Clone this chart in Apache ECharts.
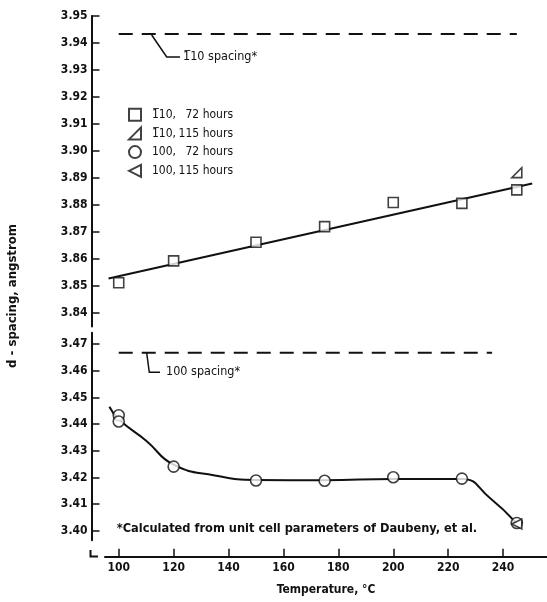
<!DOCTYPE html>
<html>
<head>
<meta charset="utf-8">
<script src="https://cdn.jsdelivr.net/npm/echarts@6/dist/echarts.min.js"></script>
<style>
html,body{margin:0;padding:0;background:#fff;}
#c{width:547px;height:602px;}
</style>
</head>
<body>
<div id="c"></div>
<script>
// ---- data ----
const xTicks = [100, 120, 140, 160, 180, 200, 220, 240];
const upperTicks = [3.84, 3.85, 3.86, 3.87, 3.88, 3.89, 3.90, 3.91, 3.92, 3.93, 3.94, 3.95];
const lowerTicks = [3.40, 3.41, 3.42, 3.43, 3.44, 3.45, 3.46, 3.47];

const t110_72 = [100, 120, 150, 175, 200, 225, 245];
const d110_72 = [3.8512, 3.8593, 3.8662, 3.8720, 3.8809, 3.8806, 3.8856];
const t110_115 = [245];
const d110_115 = [3.8920];
const t100_72 = [100, 100, 120, 150, 175, 200, 225, 245];
const d100_72 = [3.4433, 3.4410, 3.4241, 3.4189, 3.4188, 3.4201, 3.4196, 3.4030];
const t100_115 = [245];
const d100_115 = [3.4026];

const fitT = [96.3, 250.6];
const fitD = [3.8528, 3.8880];
const curveT = [96.6, 100, 110, 120, 135, 150, 175, 200, 225, 235, 245];
const curveD = [3.4465, 3.4418, 3.4338, 3.4248, 3.4208, 3.4191, 3.4190, 3.4195, 3.4195, 3.4125, 3.4028];

const ref110T = [100, 245];
const ref110 = 3.9433;
const ref100T = [100, 236];
const ref100 = 3.4667;

const seriesNames = ['1\u030510, 72 hours', '1\u030510, 115 hours', '100, 72 hours', '100, 115 hours'];

// ---- helpers ----
const zip = (xs, ys) => xs.map((x, i) => [x, ys[i]]);
const FONT = '"DejaVu Sans Condensed", "Liberation Sans Narrow", "DejaVu Sans", sans-serif';
const INK = '#111';
const rightTri = 'path://M0,10 L10,10 L10,0 Z';
const leftTri = 'path://M0,5 L10,0 L10,10 Z';

const chart = echarts.init(document.getElementById('c'), null, {renderer: 'canvas'});

const xCommon = {type: 'value', min: 95, max: 256};
const yLabel = {
  show: true, color: INK, fontFamily: FONT, fontWeight: 'bold', fontSize: 12, margin: 4,
  formatter: v => v.toFixed(2)
};

const markerStyle = {color: '#fff', borderColor: INK, borderWidth: 1.6};

chart.setOption({
  animation: false,
  backgroundColor: '#fff',
  textStyle: {fontFamily: FONT},
  grid: [
    {left: 105, width: 442.75, top: 16, height: 310.5},
    {left: 105, width: 442.75, top: 332.8, height: 207.5}
  ],
  xAxis: [
    Object.assign({gridIndex: 0, show: false}, xCommon),
    Object.assign({gridIndex: 1, offset: 16.4,
      axisLine: {show: true, lineStyle: {color: INK, width: 2}},
      axisTick: {show: true, inside: true, length: 8, customValues: xTicks, lineStyle: {color: INK, width: 1.5}},
      axisLabel: {show: true, customValues: xTicks, color: INK, fontFamily: FONT, fontWeight: 'bold', fontSize: 12, margin: 5},
      splitLine: {show: false},
      name: 'Temperature, \u00B0C', nameLocation: 'middle', nameGap: 27,
      nameTextStyle: {color: INK, fontFamily: FONT, fontWeight: 'bold', fontSize: 12}
    }, xCommon)
  ],
  yAxis: [
    {gridIndex: 0, type: 'value', min: 3.835, max: 3.95, offset: 13.5,
      axisLine: {show: true, lineStyle: {color: INK, width: 2}},
      axisTick: {show: true, inside: true, length: 8, customValues: upperTicks, lineStyle: {color: INK, width: 1.5}},
      axisLabel: Object.assign({customValues: upperTicks}, yLabel),
      splitLine: {show: false}},
    {gridIndex: 1, type: 'value', min: 3.3965, max: 3.4742, offset: 13.5,
      axisLine: {show: true, lineStyle: {color: INK, width: 2}},
      axisTick: {show: true, inside: true, length: 8, customValues: lowerTicks, lineStyle: {color: INK, width: 1.5}},
      axisLabel: Object.assign({customValues: lowerTicks}, yLabel),
      splitLine: {show: false}}
  ],
  legend: {
    orient: 'vertical', left: 128, top: 107.7, padding: 0,
    itemWidth: 12, itemHeight: 12, itemGap: 4.7,
    data: seriesNames,
    formatter: function (name) {
      const i = name.indexOf(', ');
      return '{a|' + name.slice(0, i + 1) + '}{b|' + name.slice(i + 2) + '}';
    },
    textStyle: {
      color: INK, fontFamily: FONT, fontSize: 12, lineHeight: 14,
      rich: {
        a: {width: 24, padding: [0, 0, 0, 6], fontFamily: FONT, fontSize: 12, lineHeight: 14, color: INK},
        b: {width: 57, align: 'right', fontFamily: FONT, fontSize: 12, lineHeight: 14, color: INK}
      }
    }
  },
  series: [
    {type: 'line', xAxisIndex: 0, yAxisIndex: 0, data: zip(ref110T, ref110T.map(() => ref110)),
      symbol: 'none', lineStyle: {color: INK, width: 2, type: [14, 9]}, silent: true},
    {type: 'line', xAxisIndex: 1, yAxisIndex: 1, data: zip(ref100T, ref100T.map(() => ref100)),
      symbol: 'none', lineStyle: {color: INK, width: 2, type: [14, 9]}, silent: true},
    {type: 'line', xAxisIndex: 0, yAxisIndex: 0, data: zip(fitT, fitD),
      symbol: 'none', lineStyle: {color: INK, width: 2}, silent: true},
    {type: 'line', xAxisIndex: 1, yAxisIndex: 1, data: zip(curveT, curveD), smooth: 0.5,
      symbol: 'none', lineStyle: {color: INK, width: 2}, silent: true},
    {name: seriesNames[0], type: 'scatter', xAxisIndex: 0, yAxisIndex: 0, data: zip(t110_72, d110_72),
      symbol: 'rect', symbolSize: 10, itemStyle: markerStyle, z: 5},
    {name: seriesNames[1], type: 'scatter', xAxisIndex: 0, yAxisIndex: 0, data: zip(t110_115, d110_115),
      symbol: rightTri, symbolSize: 10, itemStyle: markerStyle, z: 5},
    {name: seriesNames[2], type: 'scatter', xAxisIndex: 1, yAxisIndex: 1, data: zip(t100_72, d100_72),
      symbol: 'circle', symbolSize: 11, itemStyle: markerStyle, z: 5},
    {name: seriesNames[3], type: 'scatter', xAxisIndex: 1, yAxisIndex: 1, data: zip(t100_115, d100_115),
      symbol: leftTri, symbolSize: 10, itemStyle: markerStyle, z: 6}
  ],
  graphic: [
    {type: 'polyline', shape: {points: [[151.7, 35], [166.7, 57], [180, 57]]},
      style: {stroke: INK, lineWidth: 1.5, fill: null}},
    {type: 'text', x: 183, y: 57, style: {text: '1\u030510 spacing*', fill: INK, font: '12.5px ' + FONT, verticalAlign: 'middle'}},
    {type: 'polyline', shape: {points: [[146.7, 353], [149.3, 372.3], [160, 372.3]]},
      style: {stroke: INK, lineWidth: 1.5, fill: null}},
    {type: 'text', x: 166, y: 372, style: {text: '100 spacing*', fill: INK, font: '12.5px ' + FONT, verticalAlign: 'middle'}},
    {type: 'text', x: 116.7, y: 528.3,
      style: {text: '*Calculated from unit cell parameters of Daubeny, et al.', fill: INK, font: 'bold 12.7px ' + FONT, verticalAlign: 'middle'}},
    {type: 'text', x: 13, y: 296, rotation: Math.PI / 2,
      style: {text: 'd - spacing, angstrom', fill: INK, font: 'bold 13px ' + FONT, align: 'center', verticalAlign: 'middle'}},
    {type: 'polyline', shape: {points: [[90.5, 550], [90.5, 556.5], [98, 556.5]]},
      style: {stroke: INK, lineWidth: 2, fill: null}}
  ]
});
</script>
</body>
</html>
